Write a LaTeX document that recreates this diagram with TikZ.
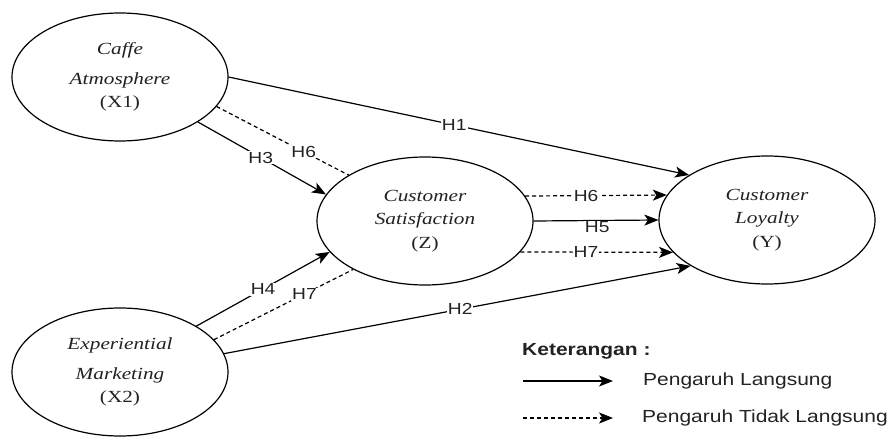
\documentclass[tikz,border=0pt]{standalone}
\usepackage{fontspec}
\setmainfont{Liberation Serif}
\newfontfamily\ellfont[FakeStretch=1.25]{Liberation Serif}
\newfontfamily\labfont[FakeStretch=1.2]{Liberation Sans}
\usetikzlibrary{arrows.meta,shapes.geometric}
\definecolor{txt}{HTML}{222222}
\begin{document}
\begin{tikzpicture}[x=1pt,y=-1pt,
 var/.style={ellipse, draw, line width=1.2pt, minimum width=216pt, minimum height=128pt, inner sep=0pt, align=center, font=\ellfont\fontsize{17}{23.5}\selectfont, text=txt},
 lab/.style={fill=white, inner sep=1pt, font=\labfont\fontsize{16}{17}\selectfont, text=txt},
 legtxt/.style={anchor=west, inner sep=0pt, font=\labfont\fontsize{17.5}{20}\selectfont, text=txt},
 direct/.style={line width=1.2pt, -{Stealth[length=14pt,width=11pt,inset=3.5pt]}},
 indirect/.style={direct, dash pattern=on 4pt off 3pt},
 indline/.style={line width=1.2pt, dash pattern=on 4pt off 3pt},
]
\useasboundingbox (0,0) rectangle (893,438);

\node[var] (x1) at (120,77) {{\itshape Caffe}\\[6pt]{\itshape Atmosphere}\\(X1)};
\node[var] (x2) at (120,372) {{\itshape Experiential}\\[6pt]{\itshape Marketing}\\(X2)};
\node[var] (z) at (425,221) {{\itshape Customer}\\{\itshape Satisfaction}\\(Z)};
\node[var] (y) at (767,220) {{\itshape Customer}\\{\itshape Loyalty}\\(Y)};

% direct effects
\draw[direct] (x1.0) -- node[lab,pos=0.49]{H1} (y.150);
\draw[direct] (x2.10) -- node[lab,pos=0.506]{H2} (y.-149);
\draw[direct] (x1.-30) -- node[lab,pos=0.49]{H3} (z.165);
\draw[direct] (x2.31) -- node[lab,pos=0.5]{H4} (z.198);
\draw[direct] (z.east) -- node[lab,pos=0.51,yshift=-7pt]{H5} (y.west);

% indirect effects
\draw[indline] (x1.-17) -- node[lab,pos=0.66]{H6} (z.149);
\draw[indline] (x2.19.5) -- node[lab,pos=0.65]{H7} (z.214);
\draw[indirect] (z.14) -- node[lab,pos=0.43]{H6} (y.166);
\draw[indirect] (z.-18.2) -- node[lab,pos=0.43]{H7} (y.-161.4);

% legend
\node[legtxt, font=\labfont\bfseries\fontsize{17.5}{20}\selectfont] (ket) at (522,351) {Keterangan :};
\coordinate (la1) at (523,381);
\coordinate (lb1) at (613,381);
\coordinate (la2) at (523,418);
\coordinate (lb2) at (613,418);
\draw[direct] (la1) -- (lb1);
\draw[indirect] (la2) -- (lb2);
\node[legtxt] (l1) at (643,381) {Pengaruh Langsung};
\node[legtxt] (l2) at (642,418) {Pengaruh Tidak Langsung};
\end{tikzpicture}
\end{document}
